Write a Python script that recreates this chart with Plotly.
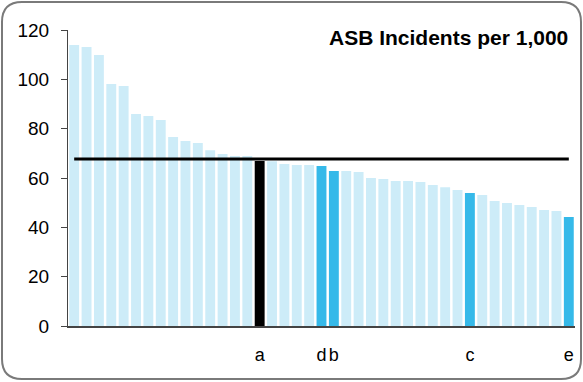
import plotly.graph_objects as go

# ---- data ----
values = [113.9, 113.1, 109.9, 98.1, 97.3, 85.9, 85.1, 83.5, 76.6, 75.0,
          74.2, 71.3, 69.7, 68.9, 68.9, 66.9, 66.8, 65.7, 65.3, 65.3,
          64.9, 62.8, 62.8, 62.4, 60.0, 59.6, 58.8, 58.8, 58.4, 57.2,
          56.3, 55.1, 53.9, 53.1, 50.7, 49.9, 49.1, 48.2, 47.0, 46.6, 44.2]
positions = list(range(len(values)))
highlight_index = [15, 20, 21, 32, 40]
highlight_labels = ["a", "d", "b", "c", "e"]
highlight_kind = ["black", "blue", "blue", "blue", "blue"]
average_value = 67.7
y_ticks = [0, 20, 40, 60, 80, 100, 120]
title_text = "ASB Incidents per 1,000"

# ---- styles ----
LIGHT = "#cdecf8"
BLUE = "#35b9e9"
BLACK = "#000000"
kind_color = {"black": BLACK, "blue": BLUE}
colors = [LIGHT] * len(values)
for i, k in zip(highlight_index, highlight_kind):
    colors[i] = kind_color[k]

W, H = 583, 382
L, R, T, B = 68, 8, 30, 56

fig = go.Figure()
fig.add_trace(go.Bar(x=positions, y=values, marker=dict(color=colors, line=dict(width=0)),
                     showlegend=False, hoverinfo="y"))
fig.add_trace(go.Scatter(x=[positions[0], positions[-1]], y=[average_value, average_value],
                         mode="lines", line=dict(color="black", width=3), showlegend=False,
                         hoverinfo="skip"))

# rounded frame in paper coords computed from pixels
pw, ph = W - L - R, H - T - B
def px(x):
    return (x - L) / pw
def py(y):
    return (H - B - y) / ph
x0, x1, y0, y1, r = 2, 581, 2, 379, 20
path = (f"M {px(x0 + r)},{py(y0)} L {px(x1 - r)},{py(y0)} Q {px(x1)},{py(y0)} {px(x1)},{py(y0 + r)} "
        f"L {px(x1)},{py(y1 - r)} Q {px(x1)},{py(y1)} {px(x1 - r)},{py(y1)} "
        f"L {px(x0 + r)},{py(y1)} Q {px(x0)},{py(y1)} {px(x0)},{py(y1 - r)} "
        f"L {px(x0)},{py(y0 + r)} Q {px(x0)},{py(y0)} {px(x0 + r)},{py(y0)} Z")

fig.update_layout(
    width=W, height=H,
    margin=dict(l=L, r=R, t=T, b=B, pad=0),
    paper_bgcolor="white", plot_bgcolor="white",
    bargap=0.2,
    font=dict(family="Liberation Sans, Arial, sans-serif", color="black"),
    shapes=[dict(type="path", xref="paper", yref="paper", path=path,
                 line=dict(color="#7a7a7a", width=2), layer="below")],
    annotations=[dict(text=f"<b>{title_text}</b>", xref="paper", yref="paper",
                      x=px(570), y=py(37), xanchor="right", yanchor="middle",
                      showarrow=False, font=dict(size=21, color="black"))],
    xaxis=dict(range=[-0.5, len(values) - 0.5], tickmode="array",
               tickvals=highlight_index, ticktext=highlight_labels,
               ticks="", showline=True, linecolor="#444", linewidth=1.5,
               showgrid=False, zeroline=False, tickfont=dict(size=18),
               ticklabelstandoff=12, fixedrange=True),
    yaxis=dict(range=[0, 120], tickmode="array", tickvals=y_ticks,
               ticks="outside", ticklen=6, tickcolor="#444", tickwidth=1,
               showline=True, linecolor="#444", linewidth=1,
               showgrid=False, zeroline=False, tickfont=dict(size=19),
               ticklabelstandoff=8, fixedrange=True),
)

fig.write_html("out.html", config={"displayModeBar": False},
               post_script="document.body.style.margin='0';document.body.style.padding='0';")
